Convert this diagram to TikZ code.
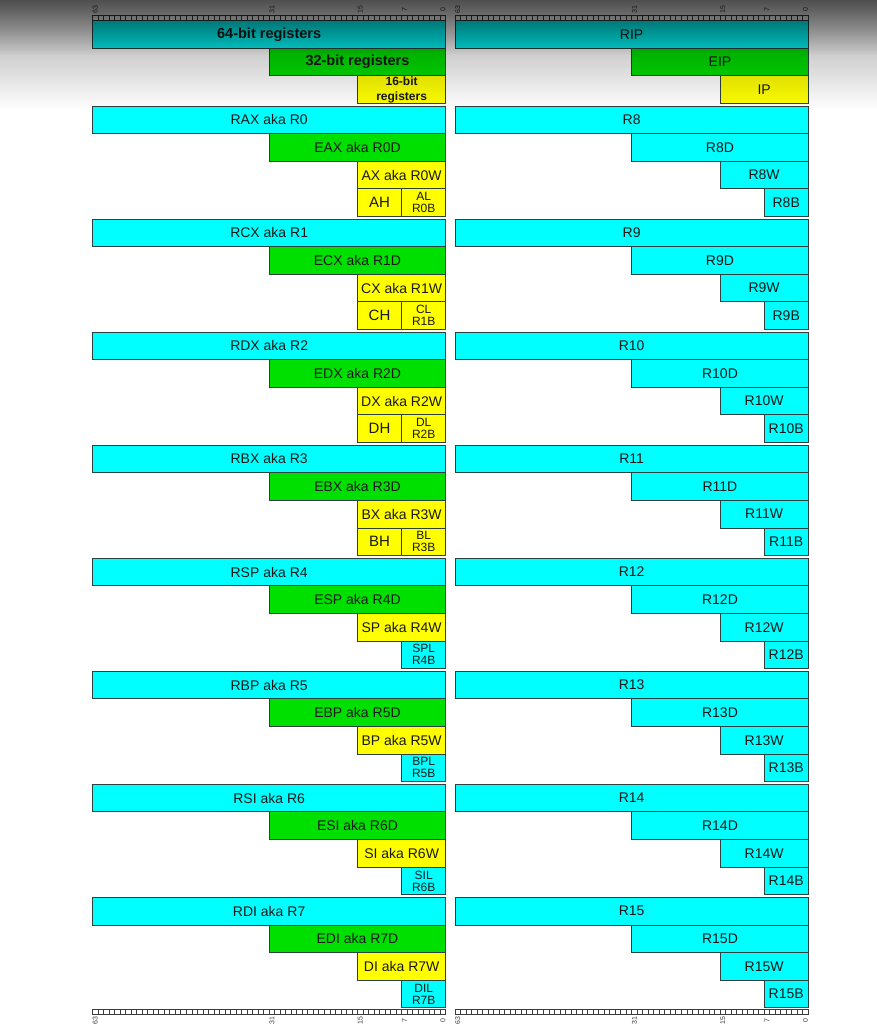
\documentclass[tikz,border=0pt]{standalone}
\usepackage{fontspec}
\setmainfont{Liberation Sans}
\usetikzlibrary{fadings}
\definecolor{regcyan}{RGB}{0,255,255}
\definecolor{reggreen}{RGB}{0,224,0}
\definecolor{regyellow}{RGB}{255,255,0}
\definecolor{bordc}{RGB}{45,65,65}
\definecolor{txtc}{RGB}{25,25,25}
\definecolor{rulec}{RGB}{60,60,60}
\tikzfading[name=shadowA, top color=transparent!62, bottom color=transparent!100]
\tikzfading[name=shadowB, top color=transparent!50, bottom color=transparent!100]
% #1 name, #2 right edge, #3 hi bit, #4 lo bit, #5 row top, #6 fill, #7 style, #8 text
\newcommand{\regbox}[8]{%
  \pgfmathsetmacro{\rbxl}{#2-(#3+1)*5.5203}%
  \pgfmathsetmacro{\rbxr}{#2-#4*5.5203}%
  \pgfmathsetlengthmacro{\rbw}{\rbxr-\rbxl}%
  \pgfmathsetmacro{\rbcx}{(\rbxl+\rbxr)/2}%
  \pgfmathsetmacro{\rbcy}{#5+13.8}%
  \node[reg, fill=#6, minimum width=\rbw, #7] (#1) at (\rbcx,\rbcy) {#8};%
}
\begin{document}
\begin{tikzpicture}[x=1pt,y=-1pt,
  reg/.style={draw=bordc, line width=0.9pt, minimum height=27.6pt, inner sep=0pt,
    text=txtc, font=\fontsize{14}{16}\selectfont},
  twoline/.style={font=\fontsize{12}{12}\selectfont, align=center},
  hdr/.style={font=\bfseries\fontsize{14.5}{16}\selectfont},
  hdrsmall/.style={font=\bfseries\fontsize{12}{15}\selectfont, align=center},
  bigbyte/.style={font=\fontsize{15}{16}\selectfont},
  cell/.style={draw=rulec, fill=white, line width=0.7pt},
  bitlbl/.style={font=\fontsize{7}{7}\selectfont, text=rulec, inner sep=0pt, rotate=90}]
\useasboundingbox (0,0) rectangle (877,1027);
\fill[white] (0,0) rectangle (877,1027);

% rulers
\foreach \c/\i in {445.8/L, 808.3/R} {
  \foreach \b in {0,...,63} {
    \draw[cell] ({\c-(\b+1)*5.5203},15.8) rectangle ++(5.5203,4.9);
    \draw[cell] ({\c-(\b+1)*5.5203},1009) rectangle ++(5.5203,4.9);
  }
  \foreach \b in {63,31,15,7,0} {
    \node[bitlbl] (top-\i-\b) at ({\c-(\b+0.5)*5.5203},9.5) {\b};
    \node[bitlbl] (bot-\i-\b) at ({\c-(\b+0.5)*5.5203},1020.5) {\b};
  }
}

% header
\regbox{h64}{445.8}{63}{0}{20.7}{regcyan}{hdr}{64-bit registers}
\regbox{h32}{445.8}{31}{0}{48.3}{reggreen}{hdr}{32-bit registers}
\regbox{h16}{445.8}{15}{0}{75.9}{regyellow}{hdrsmall}{16-bit\\registers}
\regbox{rip}{808.3}{63}{0}{20.7}{regcyan}{}{RIP}
\regbox{eip}{808.3}{31}{0}{48.3}{reggreen}{}{EIP}
\regbox{ip}{808.3}{15}{0}{75.9}{regyellow}{}{IP}

% left: legacy registers with high byte
\foreach \k/\q in {0/A,1/C,2/D,3/B} {
  \pgfmathsetmacro{\rowtop}{106+113.05*\k}
  \regbox{r\k}{445.8}{63}{0}{\rowtop}{regcyan}{}{R\q X aka R\k}
  \regbox{e\k}{445.8}{31}{0}{\rowtop+27.6}{reggreen}{}{E\q X aka R\k D}
  \regbox{w\k}{445.8}{15}{0}{\rowtop+55.2}{regyellow}{}{\q X aka R\k W}
  \regbox{hb\k}{445.8}{15}{8}{\rowtop+82.8}{regyellow}{bigbyte}{\q H}
  \regbox{lb\k}{445.8}{7}{0}{\rowtop+82.8}{regyellow}{twoline}{\q L\\R\k B}
}
% left: pointer/index registers
\foreach \k/\q in {4/SP,5/BP,6/SI,7/DI} {
  \pgfmathsetmacro{\rowtop}{106+113.05*\k}
  \regbox{r\k}{445.8}{63}{0}{\rowtop}{regcyan}{}{R\q\ aka R\k}
  \regbox{e\k}{445.8}{31}{0}{\rowtop+27.6}{reggreen}{}{E\q\ aka R\k D}
  \regbox{w\k}{445.8}{15}{0}{\rowtop+55.2}{regyellow}{}{\q\ aka R\k W}
  \regbox{lb\k}{445.8}{7}{0}{\rowtop+82.8}{regcyan}{twoline}{\q L\\R\k B}
}
% right: R8 - R15
\foreach \k in {8,...,15} {
  \pgfmathsetmacro{\rowtop}{106+113.05*(\k-8)}
  \regbox{r\k}{808.3}{63}{0}{\rowtop}{regcyan}{}{R\k}
  \regbox{e\k}{808.3}{31}{0}{\rowtop+27.6}{regcyan}{}{R\k D}
  \regbox{w\k}{808.3}{15}{0}{\rowtop+55.2}{regcyan}{}{R\k W}
  \regbox{lb\k}{808.3}{7}{0}{\rowtop+82.8}{regcyan}{}{R\k B}
}

% top shadow
\fill[black, path fading=shadowA] (0,0) rectangle (877,110);
\fill[black, path fading=shadowB] (0,0) rectangle (877,55);
\end{tikzpicture}
\end{document}
